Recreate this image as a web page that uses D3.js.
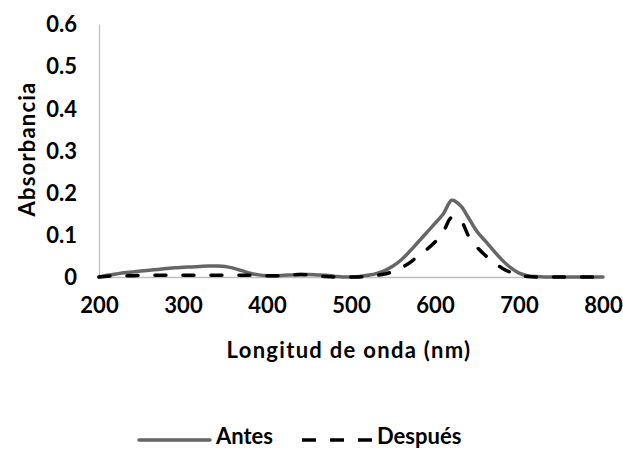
<!DOCTYPE html>
<html>
<head>
<meta charset="utf-8">
<script src="https://cdn.jsdelivr.net/npm/d3@7"></script>
<style>
  html, body { margin: 0; padding: 0; background: #fff; }
  svg text { font-family: Lato, "Open Sans", sans-serif; font-weight: 700; fill: #000; }
</style>
</head>
<body>
<svg id="chart" width="623" height="450"></svg>
<script>
// Wavelength grid (nm)
const wavelengths = [200,210,220,230,240,250,260,270,280,290,300,310,320,330,340,350,360,370,380,390,
  400,410,420,430,440,450,460,470,480,490,500,510,520,530,540,550,560,570,580,590,
  600,610,620,630,640,650,660,670,680,690,700,710,720,730,740,750,760,770,780,790,800];

// Absorbance before treatment
const antes = [0.000,0.004,0.007,0.010,0.012,0.014,0.016,0.018,0.020,0.022,0.023,0.024,0.025,0.026,0.026,0.025,0.021,0.015,0.009,0.005,
  0.003,0.003,0.004,0.005,0.006,0.006,0.005,0.004,0.002,0.000,0.000,0.001,0.004,0.008,0.015,0.026,0.041,0.061,0.083,0.105,
  0.127,0.150,0.182,0.170,0.140,0.108,0.085,0.062,0.040,0.022,0.009,0.003,0.001,0.000,0.000,0.000,0.000,0.000,0.000,0.000,0.000];

// Absorbance after treatment
const despues = [0.000,0.002,0.003,0.003,0.003,0.004,0.004,0.004,0.004,0.004,0.004,0.004,0.004,0.004,0.004,0.004,0.004,0.004,0.004,0.003,
  0.003,0.003,0.004,0.005,0.006,0.005,0.003,0.001,0.000,0.000,0.000,0.000,0.002,0.004,0.007,0.013,0.022,0.034,0.050,0.065,
  0.083,0.108,0.142,0.136,0.097,0.071,0.051,0.034,0.021,0.011,0.004,0.001,0.000,0.000,0.000,0.000,0.000,0.000,0.000,0.000,0.000];

const seriesNames = ["Antes", "Después"];
const xTicks = [200, 300, 400, 500, 600, 700, 800];
const yTicks = [0, 0.1, 0.2, 0.3, 0.4, 0.5, 0.6];
const yTickLabels = ["0", "0.1", "0.2", "0.3", "0.4", "0.5", "0.6"];

const svg = d3.select("#chart");
const plot = { left: 99, right: 603, top: 24, bottom: 277 };
const fontSize = 22;

const x = d3.scaleLinear().domain([200, 800]).range([plot.left, plot.right]);
const y = d3.scaleLinear().domain([0, 0.6]).range([plot.bottom, plot.top]);

// Axes (lines only, no tick marks)
const xAxis = d3.axisBottom(x).tickValues(xTicks).tickSize(0).tickPadding(22).tickFormat(d3.format("d"));
const yAxis = d3.axisLeft(y).tickValues(yTicks).tickSize(0).tickPadding(22)
  .tickFormat((d, i) => yTickLabels[i]);

const gx = svg.append("g").attr("transform", `translate(0,${plot.bottom})`).call(xAxis);
const gy = svg.append("g").attr("transform", `translate(${plot.left},0)`).call(yAxis);
[gx, gy].forEach(g => {
  g.select(".domain").attr("stroke", "#bfbfbf").attr("stroke-width", 1.3);
  g.selectAll("text").attr("font-size", fontSize).attr("font-family", "Lato, sans-serif").attr("font-weight", 700).attr("fill", "#000");
});
gy.selectAll("text").attr("dy", "0.35em");
gx.selectAll("text").attr("dy", "0.62em");

// Axis titles
svg.append("text")
  .attr("x", (plot.left + plot.right) / 2 - 2)
  .attr("y", 358)
  .attr("text-anchor", "middle")
  .attr("font-size", fontSize)
  .attr("letter-spacing", 1.3)
  .text("Longitud de onda (nm)");

svg.append("text")
  .attr("transform", `translate(35,149) rotate(-90)`)
  .attr("text-anchor", "middle")
  .attr("font-size", fontSize)
  .attr("letter-spacing", 1.2)
  .text("Absorbancia");

// Series lines
const series = [
  { name: seriesNames[0], values: antes, color: "#666666", dash: null },
  { name: seriesNames[1], values: despues, color: "#000000", dash: "11,17" }
];

const line = d3.line()
  .x((d, i) => x(wavelengths[i]))
  .y(d => y(d))
  .curve(d3.curveCatmullRom.alpha(0.5));

series.forEach(s => {
  svg.append("path")
    .datum(s.values)
    .attr("d", line)
    .attr("fill", "none")
    .attr("stroke", s.color)
    .attr("stroke-width", 3.5)
    .attr("stroke-linecap", "round")
    .attr("stroke-linejoin", "round")
    .attr("stroke-dasharray", s.dash);
});

// Legend
const legendY = 440;
const legendItems = [
  { x1: 139, x2: 210, tx: 216 },
  { x1: 302, x2: 372, tx: 377 }
];
series.forEach((s, i) => {
  const it = legendItems[i];
  svg.append("line")
    .attr("x1", it.x1).attr("x2", it.x2)
    .attr("y1", legendY).attr("y2", legendY)
    .attr("stroke", s.color)
    .attr("stroke-width", 3.5)
    .attr("stroke-linecap", i === 0 ? "round" : "butt")
    .attr("stroke-dasharray", i === 0 ? null : "14,14");
  svg.append("text")
    .attr("x", it.tx)
    .attr("y", legendY + 4)
    .attr("font-size", fontSize)
    .text(s.name);
});
</script>
</body>
</html>
